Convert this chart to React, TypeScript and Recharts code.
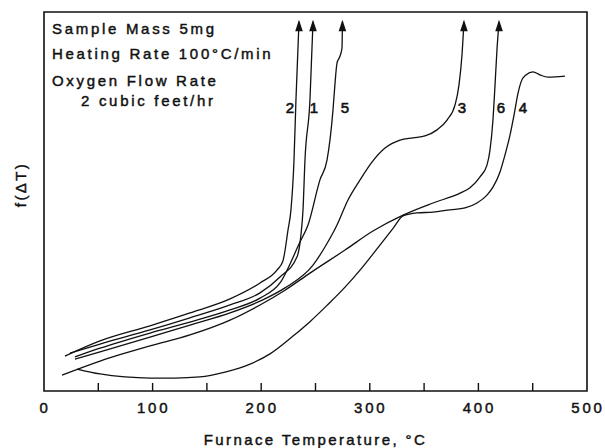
import { LineChart, Line, XAxis, YAxis, ReferenceArea, ReferenceDot, Label } from "recharts";

// temperature (°C) and f(ΔT) (arbitrary units), one pair per run
const run1Temp = [23.9, 51.6, 97.6, 134.4, 171.3, 198.9, 217.3, 233.0, 236.6, 238.5, 240.3, 244.9, 247.7];
const run1Signal = [10.0, 12.4, 16.1, 19.3, 22.7, 25.9, 30.1, 35.4, 41.2, 47.8, 60.9, 76.8, 97.4];

const run2Temp = [19.3, 51.6, 97.6, 134.4, 171.3, 198.9, 214.5, 220.0, 224.7, 227.4, 230.2, 232.0, 234.8];
const run2Signal = [9.2, 13.2, 17.2, 20.6, 24.3, 28.5, 31.9, 34.3, 42.5, 47.8, 60.9, 76.8, 97.4];

const run3Temp = [28.5, 51.6, 97.6, 134.4, 171.3, 198.9, 221.9, 247.7, 258.7, 269.8, 279.9, 291.0, 302.0, 314.0, 327.8, 339.8, 350.8, 361.9, 371.1, 378.5, 382.1, 384.9, 386.7];
const run3Signal = [8.4, 10.3, 14.2, 17.4, 20.6, 23.7, 27.2, 33.2, 38.0, 43.8, 50.4, 55.7, 60.4, 64.1, 66.2, 66.8, 67.3, 68.9, 71.5, 75.5, 80.7, 88.7, 97.4];

const run4Temp = [30.4, 51.6, 74.6, 97.6, 120.6, 143.6, 166.7, 189.7, 208.1, 229.3, 244.9, 260.6, 277.2, 291.0, 306.6, 321.4, 330.6, 343.5, 358.2, 373.8, 387.7, 398.7, 407.9, 413.4, 419.9, 424.5, 429.1, 432.8, 436.5, 439.2, 443.8, 450.3, 456.7, 464.1, 479.7];
const run4Signal = [5.8, 4.5, 3.7, 3.4, 3.4, 3.7, 5.0, 7.1, 9.8, 14.5, 18.3, 22.6, 27.4, 31.9, 37.5, 42.9, 46.2, 47.0, 47.2, 47.8, 48.3, 49.6, 51.7, 53.8, 57.8, 62.3, 67.5, 72.8, 78.6, 81.5, 83.4, 84.2, 83.4, 82.8, 83.1];

const run5Temp = [28.5, 51.6, 97.6, 134.4, 171.3, 198.9, 217.3, 235.7, 243.1, 254.1, 260.6, 266.1, 268.0, 269.8, 272.6, 274.4, 274.8];
const run5Signal = [9.0, 11.3, 15.3, 18.2, 21.4, 24.5, 28.5, 39.3, 43.8, 55.7, 60.9, 74.1, 81.3, 86.5, 88.4, 90.5, 97.4];

const run6Temp = [16.6, 51.6, 97.6, 134.4, 171.3, 198.9, 221.9, 244.9, 277.2, 302.9, 330.6, 358.2, 383.1, 392.3, 401.5, 407.9, 410.7, 413.4, 415.3, 417.1, 419.0];
const run6Signal = [4.2, 7.9, 11.9, 14.8, 18.7, 22.7, 26.6, 31.1, 37.2, 42.2, 46.4, 49.6, 52.2, 53.6, 56.5, 59.6, 63.6, 71.5, 80.7, 90.0, 97.4];

// which runs end in an arrow (off scale)
const arrowRuns = ["1", "2", "3", "5", "6"];

const runLabels = ["2", "1", "5", "3", "6", "4"];
const runLabelTemp = [226.5, 248.6, 277.2, 384.9, 420.8, 441.0];
const runLabelSignal = [74.7, 74.7, 74.7, 74.7, 74.7, 74.7];

const tempTicks = [0, 50, 100, 150, 200, 250, 300, 350, 400, 450, 500];

const notes = ["Sample Mass 5mg", "Heating Rate 100°C/min", "Oxygen Flow Rate", "2 cubic feet/hr"];

const zip = (t: number[], f: number[]) => t.map((x, i) => ({ t: x, f: f[i] }));

const runs = [
  { id: "1", data: zip(run1Temp, run1Signal) },
  { id: "2", data: zip(run2Temp, run2Signal) },
  { id: "3", data: zip(run3Temp, run3Signal) },
  { id: "4", data: zip(run4Temp, run4Signal) },
  { id: "5", data: zip(run5Temp, run5Signal) },
  { id: "6", data: zip(run6Temp, run6Signal) },
];

const FONT = "'Liberation Sans', Arial, sans-serif";
const INK = "#111";
// scanned lettering is a bit heavier than the regular face
const textInk = { fill: INK, stroke: INK, strokeWidth: 0.45 };

const TempTick = (props: any) => {
  const { x, y, payload } = props;
  const v = payload.value;
  return (
    <g>
      {v !== 0 && v !== 500 && (
        <line x1={x} x2={x} y1={y} y2={y - 8} stroke={INK} strokeWidth={1.4} />
      )}
      {v % 100 === 0 && (
        <text x={x + 1} y={y + 22} textAnchor="middle" fontFamily={FONT} fontSize={15} letterSpacing={2.8} {...textInk}>
          {v}
        </text>
      )}
    </g>
  );
};

const arrowDot = (len: number) => (p: any) => {
  if (p.index !== len - 1) return <g key={p.index} />;
  const { cx, cy } = p;
  return (
    <polygon
      key={p.index}
      points={`${cx},${cy - 2} ${cx - 3.8},${cy + 9.5} ${cx + 3.8},${cy + 9.5}`}
      fill={INK}
    />
  );
};

export default function App() {
  return (
    <div style={{ position: "absolute", left: 0, top: 0, width: 605, height: 448, background: "#fff" }}>
      <LineChart width={605} height={448} margin={{ top: 12, right: 18, bottom: 0, left: 0 }}>
        <XAxis
          type="number"
          dataKey="t"
          domain={[0, 500]}
          ticks={tempTicks}
          axisLine={false}
          tickLine={false}
          tickSize={0}
          tickMargin={0}
          tick={<TempTick />}
          height={57}
          interval={0}
          allowDuplicatedCategory={false}
        >
          <Label
            value="Furnace Temperature, °C"
            position="insideBottom"
            offset={3}
            style={{ fontFamily: FONT, fontSize: 15, letterSpacing: 2.4, ...textInk }}
          />
        </XAxis>
        <YAxis
          type="number"
          dataKey="f"
          domain={[0, 100]}
          width={44}
          tick={false}
          axisLine={false}
          tickLine={false}
        >
          <Label
            content={(lp: any) => {
              const vb = lp.viewBox;
              const x = vb.x + 20;
              const y = vb.y + vb.height / 2 - 17;
              return (
                <text
                  x={x}
                  y={y}
                  transform={`rotate(-90 ${x} ${y})`}
                  textAnchor="middle"
                  dominantBaseline="central"
                  fontFamily={FONT}
                  fontSize={15}
                  letterSpacing={2.4}
                  {...textInk}
                >
                  f(ΔT)
                </text>
              );
            }}
          />
        </YAxis>
        <ReferenceArea x1={0} x2={500} y1={0} y2={100} fill="none" fillOpacity={0} stroke={INK} strokeWidth={1.6} />
        {runs.map((r) => (
          <Line
            key={r.id}
            data={r.data}
            dataKey="f"
            type="monotone"
            stroke={INK}
            strokeWidth={1.3}
            dot={arrowRuns.includes(r.id) ? arrowDot(r.data.length) : false}
            activeDot={false}
            isAnimationActive={false}
          />
        ))}
        {runLabels.map((lab, i) => (
          <ReferenceDot
            key={lab}
            x={runLabelTemp[i]}
            y={runLabelSignal[i]}
            r={0}
            shape={(p: any) => (
              <text
                x={p.cx}
                y={p.cy}
                textAnchor="middle"
                dominantBaseline="central"
                fontFamily={FONT}
                fontSize={15}
                {...textInk}
                strokeWidth={0.6}
              >
                {lab}
              </text>
            )}
          />
        ))}
      </LineChart>
      <svg width={605} height={448} style={{ position: "absolute", left: 0, top: 0, pointerEvents: "none" }}>
        {notes.map((n, i) => (
          <text
            key={n}
            x={i === 3 ? 81 : 52}
            y={[34, 59, 86, 106][i]}
            fontFamily={FONT}
            fontSize={15}
            letterSpacing={2.7}
            {...textInk}
          >
            {n}
          </text>
        ))}
      </svg>
    </div>
  );
}
